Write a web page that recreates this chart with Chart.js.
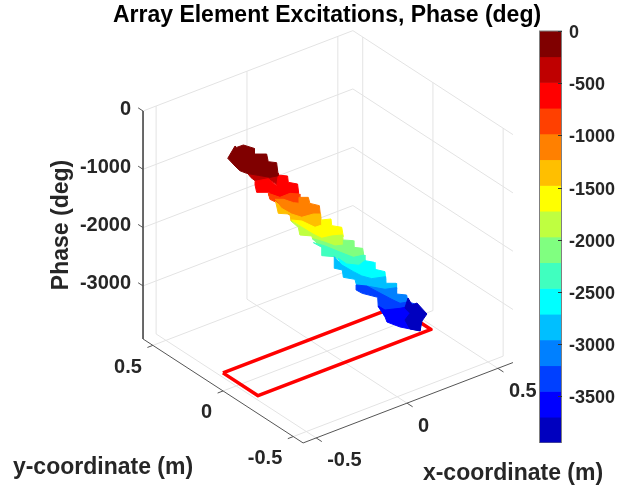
<!DOCTYPE html>
<html>
<head>
<meta charset="utf-8">
<script src="https://cdn.jsdelivr.net/npm/chart.js@4"></script>
<style>
  html, body { margin: 0; padding: 0; background: #fff; }
  #wrap { position: relative; width: 617px; height: 489px; overflow: hidden; }
  canvas { position: absolute; display: block; }
</style>
</head>
<body>
<div id="wrap">
  <canvas id="surfaceChart" width="617" height="489" style="left:0;top:0"></canvas>
  <canvas id="colorbarChart" width="78" height="422" style="left:539px;top:21px"></canvas>
</div>
<script>
// axis limits and ticks
const xLimits = [-0.572, 0.583];
const yLimits = [-0.57, 0.57];
const zLimits = [-3910, 0];
const xTicks = [-0.5, 0, 0.5];
const yTicks = [-0.5, 0, 0.5];
const zTicks = [-3000, -2000, -1000, 0];

// array outline on the floor (m)
const apertureX = [-0.476, 0.476, 0.476, -0.476, -0.476];
const apertureY = [0.125, 0.125, -0.125, -0.125, 0.125];

// colour levels, top to bottom of the colorbar (deg)
const colorEdges = [0, -247, -493, -740, -986, -1233, -1480, -1726, -1973, -2219, -2466, -2713, -2959, -3206, -3452, -3699, -3946];
const colorTicks = [0, -500, -1000, -1500, -2000, -2500, -3000, -3500];
const jet16 = ['#800000', '#bf0000', '#ff0000', '#ff4000', '#ff8000', '#ffbf00', '#ffff00', '#bfff40',
               '#80ff80', '#40ffbf', '#00ffff', '#00bfff', '#0080ff', '#0040ff', '#0000ff', '#0000bf'];

// outline of each phase band: x (m), phase (deg), in a plane of constant y
const bandY = [0.1, 0, 0, 0, 0, 0, 0, 0, 0, 0, 0, 0, 0, 0, 0, 0];
const bandX = [
  [-.469, -.429, -.420, -.383, -.323, -.323, -.255, -.246, -.200, -.191, -.236, -.301, -.365, -.402, -.429],
  [-.437, -.268, -.268, -.286, -.323, -.387, -.418],
  [-.396, -.323, -.277, -.268, -.217, -.213, -.162, -.154, -.204, -.259, -.323, -.317, -.387, -.396],
  [-.323, -.259, -.204, -.154, -.149, -.185, -.240, -.246, -.268, -.314],
  [-.286, -.240, -.185, -.154, -.154, -.103, -.094, -.042, -.035, -.075, -.139, -.195, -.259, -.268],
  [-.283, -.250, -.195, -.139, -.075, -.035, -.029, -.066, -.139, -.154, -.198, -.204, -.268],
  [-.195, -.139, -.066, -.029, -.029, .022, .026, .081, .090, .026, -.029, -.075, -.121, -.154],
  [-.198, -.149, -.075, -.029, .026, .086, .092, .044, -.020, -.079, -.084, -.149, -.158],
  [-.081, -.020, .044, .092, .090, .145, .148, .196, .204, .145, .071, -.011, -.029],
  [-.075, -.011, .071, .145, .204, .209, .176, .108, .053, .040, -.029, -.029],
  [.062, .108, .176, .209, .259, .264, .319, .323, .246, .191, .145, .084],
  [.040, .081, .145, .191, .246, .323, .325, .380, .383, .319, .246, .163, .154, .090, .084, .044],
  [.218, .319, .383, .383, .438, .448, .402, .356, .301],
  [.160, .218, .301, .356, .402, .448, .484, .488, .448, .402, .356, .319, .282, .279, .194, .160],
  [.282, .319, .402, .448, .488, .493, .512, .512, .457, .402, .330, .319],
  [.446, .468, .495, .550, .523, .512, .457, .429, .457, .429]
];
const bandPhase = [
  [-199, -36, -70, -73, -203, -300, -381, -523, -595, -829, -803, -692, -581, -492, -379],
  [-339, -540, -752, -690, -577, -546, -435],
  [-524, -566, -741, -569, -647, -760, -850, -1065, -988, -991, -846, -807, -724, -587],
  [-817, -963, -960, -1030, -1237, -1153, -1019, -1138, -1055, -931],
  [-964, -1019, -1142, -1190, -1088, -1149, -1263, -1364, -1573, -1485, -1465, -1360, -1163, -1037],
  [-1003, -1162, -1325, -1448, -1468, -1516, -1751, -1724, -1522, -1534, -1441, -1314, -1226],
  [-1428, -1511, -1707, -1711, -1625, -1669, -1788, -1882, -2053, -1977, -1951, -1828, -1687, -1562],
  [-1441, -1586, -1816, -1940, -1965, -2020, -2227, -2170, -2025, -1892, -1834, -1740, -1598],
  [-1884, -2008, -2159, -2199, -2111, -2188, -2306, -2381, -2532, -2491, -2317, -2116, -2094],
  [-1959, -2093, -2295, -2474, -2504, -2625, -2659, -2561, -2381, -2337, -2237, -2094],
  [-2392, -2544, -2648, -2607, -2695, -2822, -2927, -3075, -2983, -2871, -2731, -2590],
  [-2337, -2528, -2719, -2848, -2960, -3018, -3134, -3200, -3301, -3253, -3137, -2981, -2862, -2751, -2618, -2542],
  [-3053, -3230, -3278, -3387, -3470, -3624, -3581, -3457, -3306],
  [-2966, -3053, -3289, -3446, -3569, -3601, -3679, -3786, -3738, -3741, -3743, -3699, -3484, -3319, -3150, -3051],
  [-3472, -3585, -3655, -3681, -3701, -3907, -4015, -4169, -4075, -3975, -3804, -3699],
  [-3530, -3677, -3675, -3929, -4017, -4175, -4075, -3888, -3806, -3682]
];

// fixed 3D view of the MATLAB axes, onto the flat chart plane
function project(x, y, z) {
  return {
    x: 327 + 181.7 * x - 140.4 * y,
    y: 123.2 - 69.6 * x - 91.2 * y - 0.0583 * z
  };
}

const [xMin, xMax] = xLimits;
const [yMin, yMax] = yLimits;
const [zMin, zMax] = zLimits;
const gridColor = '#e3e3e3';
const axisColor = '#555555';
const textColor = '#262626';

const datasets = [];

function addLine(points, color, width, order) {
  datasets.push({
    data: points,
    showLine: true,
    borderColor: color,
    borderWidth: width,
    pointRadius: 0,
    fill: false,
    order: order
  });
}

// grid on the floor and the two back walls
xTicks.forEach(t => {
  addLine([project(t, yMin, zMin), project(t, yMax, zMin), project(t, yMax, zMax)], gridColor, 1, 300);
});
yTicks.forEach(t => {
  addLine([project(xMin, t, zMin), project(xMax, t, zMin), project(xMax, t, zMax)], gridColor, 1, 300);
});
zTicks.forEach(t => {
  addLine([project(xMin, yMax, t), project(xMax, yMax, t), project(xMax, yMin, t)], gridColor, 1, 300);
});

// axis lines
addLine([project(xMin, yMax, zMax), project(xMin, yMax, zMin), project(xMin, yMin, zMin), project(xMax, yMin, zMin)], axisColor, 1, 200);

// tick marks pointing out of the box
xTicks.forEach(t => {
  addLine([project(t, yMin, zMin), project(t, yMin - 0.04, zMin)], axisColor, 1, 200);
});
yTicks.forEach(t => {
  addLine([project(xMin, t, zMin), project(xMin - 0.03, t, zMin)], axisColor, 1, 200);
});
zTicks.forEach(t => {
  addLine([project(xMin, yMax, t), project(xMin, yMax + 0.035, t)], axisColor, 1, 200);
});

addLine(apertureX.map((x, i) => project(x, apertureY[i], zMin)), '#ff0000', 3.5, 100);

// phase bands, dark red on top of the others
jet16.forEach((color, i) => {
  const pts = bandX[i].map((x, j) => project(x, bandY[i], bandPhase[i][j]));
  pts.push(pts[0]);
  datasets.push({
    data: pts,
    showLine: true,
    borderColor: color,
    borderWidth: 1,
    backgroundColor: color,
    pointRadius: 0,
    fill: 'shape',
    order: i === 0 ? 0 : 50 - i
  });
});

const axisTexts = {
  id: 'axisTexts',
  afterDraw(chart) {
    const ctx = chart.ctx;
    const sx = chart.scales.x;
    const sy = chart.scales.y;
    const put = (text, x, y, opts = {}) => {
      ctx.save();
      ctx.font = (opts.font || 'bold 20px "Liberation Sans"');
      ctx.fillStyle = opts.color || textColor;
      ctx.textAlign = opts.align || 'center';
      ctx.textBaseline = 'middle';
      ctx.translate(x, y);
      if (opts.rotate) ctx.rotate(opts.rotate);
      ctx.fillText(text, 0, 0);
      ctx.restore();
    };
    const at = p => ({ x: sx.getPixelForValue(p.x), y: sy.getPixelForValue(p.y) });
    const big = 'bold 23px "Liberation Sans"';

    zTicks.forEach(t => {
      const p = at(project(xMin, yMax, t));
      put(String(t), p.x - 12, p.y - 2, { align: 'right' });
    });
    yTicks.forEach(t => {
      const p = at(project(xMin, t, zMin));
      put(String(t), p.x - 11, p.y + 22, { align: 'right' });
    });
    xTicks.forEach(t => {
      const p = at(project(t, yMin, zMin));
      put(String(t), p.x + 11, p.y + 23, { align: 'left' });
    });

    put('Array Element Excitations, Phase (deg)', 327, 16, { color: '#000', font: big });
    put('y-coordinate (m)', 103, 468, { font: big });
    put('x-coordinate (m)', 513, 474, { font: big });
    put('Phase (deg)', 62, 225, { rotate: -Math.PI / 2, font: big });
  }
};

new Chart(document.getElementById('surfaceChart'), {
  type: 'scatter',
  data: { datasets: datasets },
  plugins: [axisTexts],
  options: {
    responsive: false,
    animation: false,
    events: [],
    layout: { padding: 0 },
    plugins: { legend: { display: false }, tooltip: { enabled: false } },
    elements: { line: { tension: 0, borderJoinStyle: 'round', borderCapStyle: 'butt' } },
    scales: {
      x: { type: 'linear', display: false, min: 0, max: 617 },
      y: { type: 'linear', display: false, min: 0, max: 489, reverse: true }
    }
  }
});

const colorbarFrame = {
  id: 'colorbarFrame',
  afterDatasetsDraw(chart) {
    const { ctx, chartArea: a, scales } = chart;
    ctx.save();
    ctx.strokeStyle = '#7f7f7f';
    ctx.lineWidth = 1;
    ctx.strokeRect(a.left + 0.5, a.top, a.right - a.left - 1, a.bottom - a.top);
    ctx.strokeStyle = '#333';
    colorTicks.forEach(t => {
      const y = Math.round(scales.y.getPixelForValue(t)) + 0.5;
      ctx.beginPath();
      ctx.moveTo(a.right - 4, y);
      ctx.lineTo(a.right, y);
      ctx.stroke();
    });
    ctx.restore();
  }
};

new Chart(document.getElementById('colorbarChart'), {
  type: 'bar',
  data: {
    labels: ['phase'],
    datasets: jet16.map((color, i) => ({
      data: [[colorEdges[i + 1], colorEdges[i]]],
      backgroundColor: color,
      borderWidth: 0,
      grouped: false,
      barPercentage: 1,
      categoryPercentage: 1
    }))
  },
  plugins: [colorbarFrame],
  options: {
    responsive: false,
    animation: false,
    events: [],
    layout: { padding: { top: 10, bottom: 0, left: 0, right: 0 } },
    plugins: { legend: { display: false }, tooltip: { enabled: false } },
    scales: {
      x: { display: false },
      y: {
        position: 'right',
        min: colorEdges[colorEdges.length - 1],
        max: 0,
        grid: { display: false, drawTicks: false },
        border: { display: false },
        afterBuildTicks(scale) { scale.ticks = colorTicks.map(v => ({ value: v })); },
        afterFit(scale) { scale.width = 55; scale.paddingTop = 0; scale.paddingBottom = 0; },
        ticks: {
          padding: 7,
          labelOffset: 2,
          color: textColor,
          font: { family: '"Liberation Sans"', weight: 'bold', size: 18 },
          callback: v => String(v)
        }
      }
    }
  }
});
</script>
</body>
</html>
